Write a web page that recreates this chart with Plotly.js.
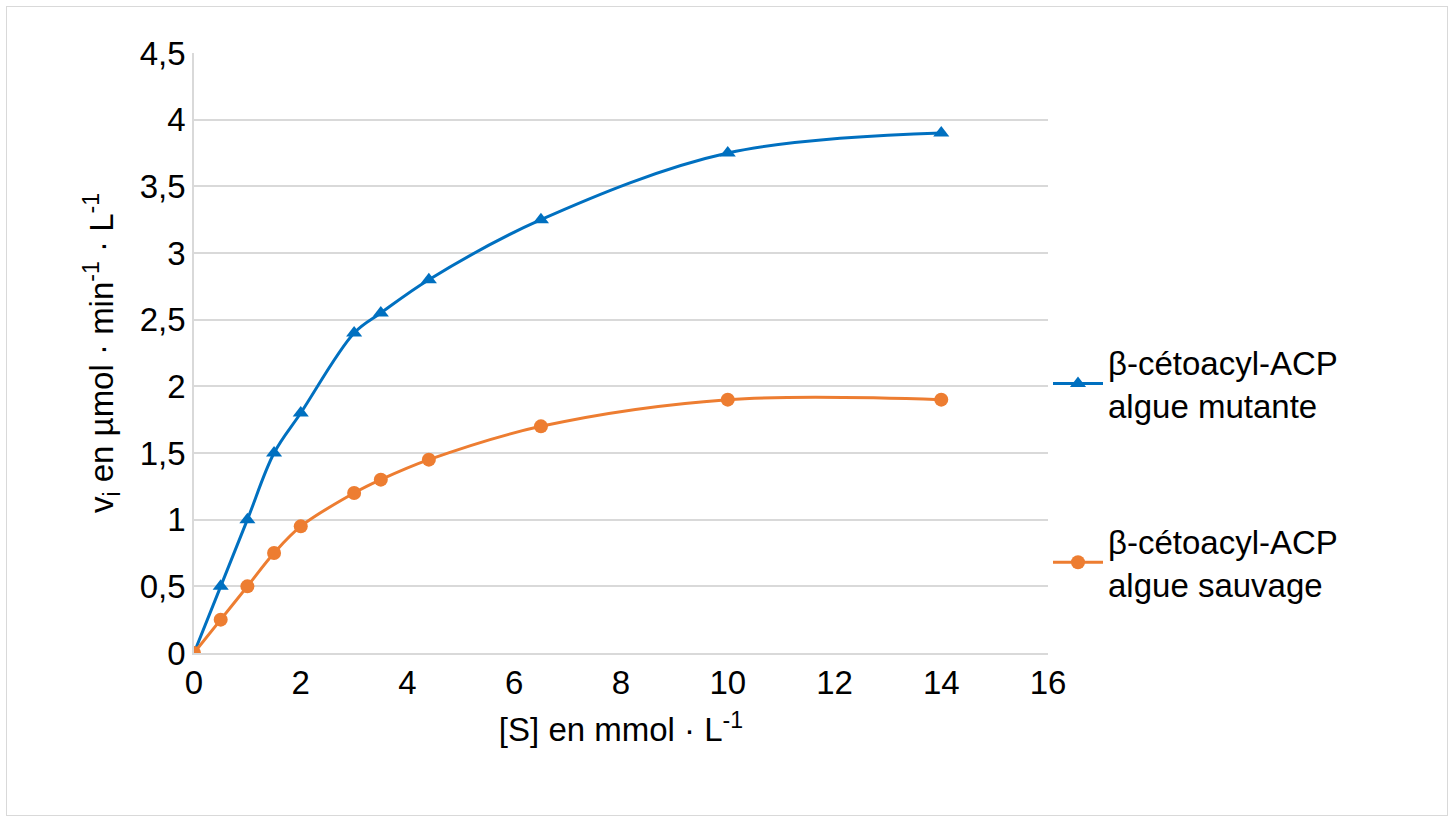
<!DOCTYPE html>
<html>
<head>
<meta charset="utf-8">
<script src="https://cdn.plot.ly/plotly-3.0.1.min.js"></script>
<style>
  body { margin: 0; background: #fff; }
  #frame { position: absolute; left: 6px; top: 6px; width: 1442px; height: 810px; border: 1.5px solid #d9d9d9; box-sizing: border-box; overflow: hidden; }
  #chart { position: absolute; left: 0; top: 0; width: 1438px; height: 806px; }
</style>
</head>
<body>
<div id="frame"><div id="chart"></div></div>
<script>
// ---- Données ----
const substrat = [0, 0.5, 1, 1.5, 2, 3, 3.5, 4.4, 6.5, 10, 14];
const vMutante = [0, 0.5, 1, 1.5, 1.8, 2.4, 2.55, 2.8, 3.25, 3.75, 3.9];
const vSauvage = [0, 0.25, 0.5, 0.75, 0.95, 1.2, 1.3, 1.45, 1.7, 1.9, 1.9];
const nomMutante = 'β-cétoacyl-ACP<br>algue mutante';
const nomSauvage = 'β-cétoacyl-ACP<br>algue sauvage';

const mutante = {
  x: substrat, y: vMutante, name: nomMutante, legendgroup: 'm',
  type: 'scatter', mode: 'lines+markers',
  line: { color: '#0070c0', width: 3, shape: 'spline' },
  marker: { symbol: 'triangle-up', size: 14, color: '#0070c0' }
};
const sauvage = {
  x: substrat, y: vSauvage, name: nomSauvage, legendgroup: 's',
  type: 'scatter', mode: 'lines+markers',
  line: { color: '#ed7d31', width: 3, shape: 'spline' },
  marker: { symbol: 'circle', size: 14, color: '#ed7d31' }
};

const layout = {
  width: 1438, height: 806,
  paper_bgcolor: '#fff', plot_bgcolor: '#fff',
  separators: ',.',
  font: { family: 'Liberation Sans, Arial, sans-serif', color: '#000', size: 33 },
  margin: { l: 187, r: 397, t: 46, b: 160 },
  xaxis: {
    range: [0, 16], dtick: 2, showgrid: false, zeroline: false,
    showline: true, linecolor: '#d9d9d9', linewidth: 1.5,
    ticks: '', ticklen: 0,
    title: { text: '[S] en mmol · L<sup>-1</sup>', font: { size: 33 }, standoff: 18 }
  },
  yaxis: {
    range: [0, 4.5], dtick: 0.5, gridcolor: '#d9d9d9', gridwidth: 1.5,
    zeroline: false, showline: true, linecolor: '#d9d9d9', linewidth: 1.5,
    title: { text: 'v<sub>i</sub> en µmol · min<sup>-1</sup> · L<sup>-1</sup>', font: { size: 33 }, standoff: 16 }
  },
  legend: {
    x: 1.0, y: 0.3, xanchor: 'left', yanchor: 'middle',
    font: { size: 33 }, tracegroupgap: 90, itemwidth: 50
  },
  showlegend: true
};

Plotly.newPlot('chart', [mutante, sauvage], layout, { displayModeBar: false });
</script>
</body>
</html>
